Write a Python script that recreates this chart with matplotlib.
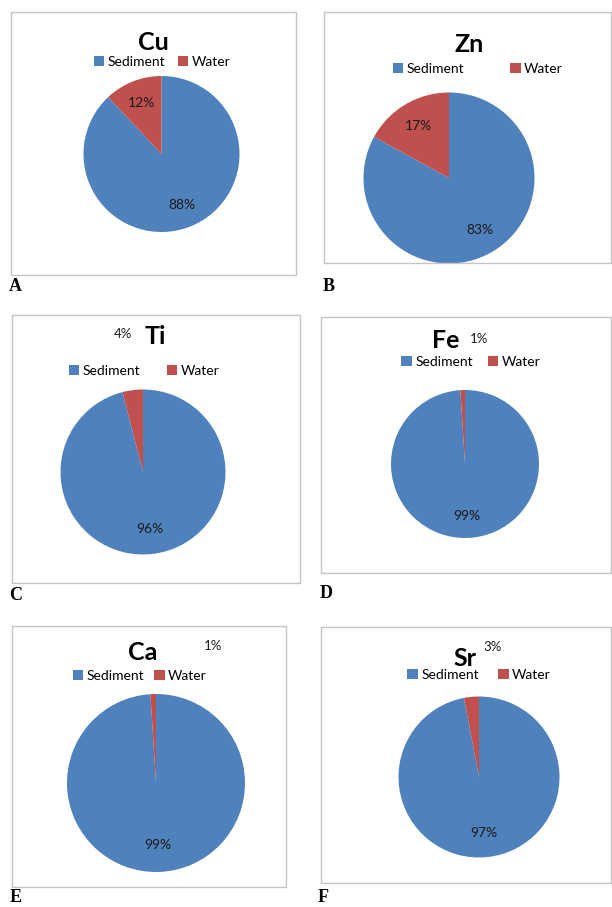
import matplotlib
matplotlib.use("Agg")
import matplotlib.pyplot as plt
from matplotlib.patches import Rectangle, Patch

# data
elements = ["Cu", "Zn", "Ti", "Fe", "Ca", "Sr"]
letters = ["A", "B", "C", "D", "E", "F"]
sediment = [88, 83, 96, 99, 99, 97]
water = [12, 17, 4, 1, 1, 3]
series = ["Sediment", "Water"]

BLUE = "#4F81BD"
RED = "#C0504D"
EDGE = "#C4C4C4"
FONT = ["Lato", "DejaVu Sans"]

W, H = 612, 907
fig = plt.figure(figsize=(W / 100, H / 100), dpi=100)
fig.patch.set_facecolor("white")


def fx(x):
    return x / W


def fy(y):
    return 1 - y / H


# layout per panel, in pixels (top-left origin)
# box (x0, y0, x1, y1), title xy, legend center xy, legend col spacing,
# pie center xy + radius, outside water label xy (None = inside), letter xy
layout = [
    dict(box=(11, 12, 296, 275), title=(153, 43), leg=(162, 62), cs=0.9,
         pie=(161.5, 154, 78), out=None, let=(15, 287)),
    dict(box=(324, 12, 611, 263), title=(469, 45), leg=(478, 69), cs=3.3,
         pie=(449, 178, 85.5), out=None, let=(329, 287)),
    dict(box=(12, 315, 300, 583), title=(155, 337), leg=(144, 371), cs=1.9,
         pie=(143, 472, 82.5), out=(123, 334), let=(16, 595)),
    dict(box=(321, 317, 611, 573), title=(446, 340), leg=(471, 362), cs=1.1,
         pie=(465, 464, 74), out=(479, 339), let=(326, 594)),
    dict(box=(12, 626, 286, 887), title=(143, 652), leg=(140, 676), cs=0.7,
         pie=(156, 783, 89), out=(213, 646), let=(16, 898)),
    dict(box=(321, 627, 611, 883), title=(465, 658), leg=(479, 675), cs=1.4,
         pie=(479, 777, 80.5), out=(493, 647), let=(323, 898)),
]

for i, L in enumerate(layout):
    x0, y0, x1, y1 = L["box"]
    fig.add_artist(Rectangle((fx(x0), fy(y1)), fx(x1 - x0), (y1 - y0) / H,
                             transform=fig.transFigure, fill=False,
                             edgecolor=EDGE, linewidth=1.0))

    cx, cy, r = L["pie"]
    ax = fig.add_axes([fx(cx - r), fy(cy + r), 2 * r / W, 2 * r / H])
    wedges, texts, autotexts = ax.pie(
        [sediment[i], water[i]], colors=[BLUE, RED], startangle=90,
        counterclock=False, radius=1, autopct="%1.0f%%", pctdistance=0.7,
        textprops=dict(fontsize=10, family=FONT, color="#1a1a1a"),
        wedgeprops=dict(linewidth=0))
    ax.set_xlim(-1, 1)
    ax.set_ylim(-1, 1)
    ax.set_aspect("equal")
    ax.axis("off")

    if L["out"] is not None:
        autotexts[1].set_visible(False)
        ox, oy = L["out"]
        fig.text(fx(ox), fy(oy), autotexts[1].get_text(), ha="center",
                 va="center", fontsize=9.5, family=FONT, color="#1a1a1a")

    tx, ty = L["title"]
    fig.text(fx(tx), fy(ty), elements[i], ha="center", va="center",
             fontsize=18, fontweight="bold", family=FONT)

    lx, ly = L["leg"]
    handles = [Patch(facecolor=BLUE, edgecolor="none"),
               Patch(facecolor=RED, edgecolor="none")]
    fig.legend(handles, series, loc="center", bbox_to_anchor=(fx(lx), fy(ly)),
               ncol=2, frameon=False, handlelength=0.75, handleheight=0.75,
               handletextpad=0.25, columnspacing=L["cs"], borderpad=0,
               prop=dict(family=FONT, size=10))

    ex, ey = L["let"]
    fig.text(fx(ex), fy(ey), letters[i], ha="center", va="center",
             fontsize=13, fontweight="bold", family="Liberation Serif")

fig.savefig("out.png", dpi=100, facecolor="white")
